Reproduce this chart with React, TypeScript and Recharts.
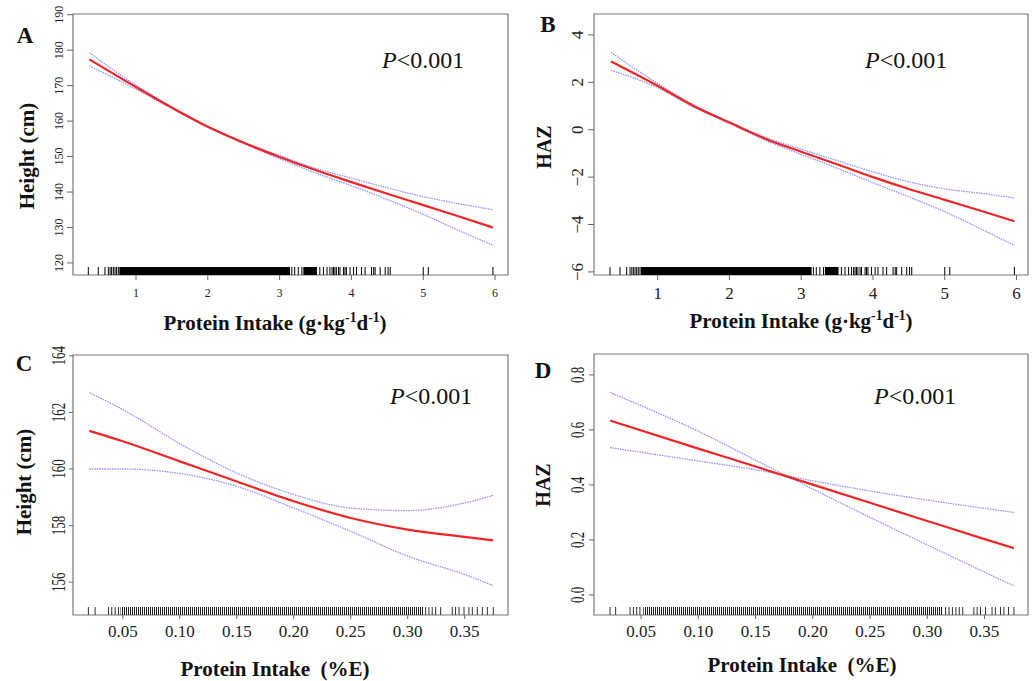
import React from "react";
import { ComposedChart, Line, Scatter, XAxis, YAxis, ReferenceArea } from "recharts";

const SERIF = "'Liberation Serif', 'Times New Roman', serif";

// A & B: protein intake in g/kg/d
const intakeKg = [0.35, 1, 1.5, 2, 2.5, 3, 3.5, 4, 4.5, 5, 5.5, 5.97];
const heightFitA = [177.4, 169.6, 163.8, 158.4, 153.9, 149.9, 146.2, 142.8, 139.5, 136.3, 133.1, 130.0];
const heightUpA = [179.3, 170.1, 164.0, 158.5, 154.05, 150.3, 146.7, 143.9, 141.2, 138.7, 136.7, 135.0];
const heightLoA = [175.6, 169.0, 163.5, 158.25, 153.65, 149.4, 145.4, 141.8, 137.9, 133.7, 129.1, 125.0];

const hazFitB = [2.88, 1.85, 1.0, 0.3, -0.38, -0.93, -1.46, -2.0, -2.5, -2.96, -3.42, -3.86];
const hazUpB = [3.26, 1.95, 1.05, 0.33, -0.32, -0.82, -1.3, -1.78, -2.2, -2.5, -2.68, -2.88];
const hazLoB = [2.5, 1.77, 0.95, 0.26, -0.45, -1.04, -1.62, -2.24, -2.83, -3.46, -4.18, -4.88];

// sparse rug ticks + solid (overplotted) stretches
const rugKg = [0.336, 0.475, 0.568, 0.615, 0.64, 0.661, 0.685, 0.708, 0.73, 0.754, 3.17, 3.21, 3.26, 3.31,
  3.56, 3.61, 3.66, 3.7, 3.73, 3.75, 3.77, 3.79, 3.82, 3.84, 3.89, 3.91, 3.93, 3.98, 4.03, 4.07, 4.14,
  4.19, 4.28, 4.31, 4.33, 4.4, 4.47, 4.51, 4.54, 5.0, 5.07, 5.97];
const rugBandsKg = [[0.768, 3.145], [3.33, 3.52]];

// C & D: protein intake as %E
const intakeE = [0.0207, 0.05, 0.1, 0.15, 0.2, 0.25, 0.3, 0.35, 0.375];
const heightFitC = [161.35, 160.98, 160.27, 159.56, 158.86, 158.27, 157.86, 157.6, 157.48];
const heightUpC = [162.7, 162.1, 160.9, 159.86, 159.1, 158.62, 158.53, 158.8, 159.07];
const heightLoC = [160.0, 160.0, 159.84, 159.39, 158.62, 157.8, 156.92, 156.27, 155.88];
const rugC = [0.0198, 0.0257, 0.0374, 0.0403, 0.0433, 0.0462, 0.3157, 0.3186, 0.3215, 0.3245, 0.3289,
  0.3391, 0.342, 0.345, 0.3494, 0.3537, 0.3567, 0.3611, 0.3655, 0.3699, 0.3751];
const rugBandsC = [[0.048, 0.314]];

const intakeD = [0.0229, 0.1, 0.15, 0.2, 0.25, 0.3, 0.35, 0.3757];
const hazFitD = [0.634, 0.532, 0.467, 0.401, 0.335, 0.269, 0.203, 0.17];
const hazCiSteepD = [0.736, 0.595, 0.49, 0.385, 0.282, 0.182, 0.083, 0.033];
const hazCiFlatD = [0.536, 0.487, 0.455, 0.415, 0.378, 0.345, 0.315, 0.3];
const rugD = [0.0229, 0.0278, 0.0404, 0.0433, 0.0462, 0.049, 0.316, 0.319, 0.322, 0.325, 0.328, 0.331,
  0.3407, 0.3436, 0.3465, 0.3509, 0.3566, 0.3595, 0.364, 0.367, 0.371, 0.3757];
const rugBandsD = [[0.052, 0.313]];

const ticksKg = [1, 2, 3, 4, 5, 6];
const ticksE = [0.05, 0.1, 0.15, 0.2, 0.25, 0.3, 0.35];
const yTicksA = [120, 130, 140, 150, 160, 170, 180, 190];
const yTicksB = [-6, -4, -2, 0, 2, 4];
const yTicksC = [156, 158, 160, 162, 164];
const yTicksD = [0, 0.2, 0.4, 0.6, 0.8];

const pts = (xs: number[], ys: number[]) => xs.map((x, i) => ({ x, y: ys[i] }));
const minus = (v: number) => (v < 0 ? "\u2212" + Math.abs(v) : String(v));

const RED = "#f02424";
const CI = "#8f8fff";

function RotTick(props: any) {
  const { x, y, payload, fs, sx, fmt } = props;
  return (
    <text
      transform={`translate(${x},${y}) scale(${sx},1) rotate(-90)`}
      textAnchor="middle"
      fontSize={fs}
      fontFamily={SERIF}
      fill="#222"
    >
      {fmt(payload.value)}
    </text>
  );
}

function RugBand(props: any) {
  const { x, y, width, height, hatch, id } = props;
  const bottom = y + height;
  if (!hatch) return <rect x={x} y={bottom - 8} width={width} height={8} fill="#000" />;
  return (
    <g>
      <defs>
        <pattern id={id} width={2} height={8} patternUnits="userSpaceOnUse">
          <rect x={0} y={0} width={1} height={8} fill="#1e1e1e" />
        </pattern>
      </defs>
      <rect x={x} y={bottom - 8} width={width} height={8} fill={`url(#${id})`} />
    </g>
  );
}

function Panel(p: any) {
  const yMin = p.yDomain[0];
  const rugData = p.rug.map((x: number) => ({ x, y: yMin }));
  return (
    <div style={{ position: "absolute", left: p.left, top: p.top }}>
      <ComposedChart width={p.width} height={p.height} margin={p.margin}>
        <XAxis
          type="number"
          dataKey="x"
          domain={p.xDomain}
          ticks={p.xTicks}
          allowDataOverflow
          height={p.xHeight}
          axisLine={false}
          tickSize={p.xTickSize}
          tickMargin={p.xTickMargin}
          tickLine={{ stroke: "#666" }}
          tick={{ fontSize: p.xFs, fontFamily: SERIF, fill: "#222" }}
          tickFormatter={p.xFmt}
          interval={0}
        />
        <YAxis
          type="number"
          dataKey="y"
          domain={p.yDomain}
          ticks={p.yTicks}
          allowDataOverflow
          width={p.yWidth}
          axisLine={false}
          tickSize={p.yTickSize}
          tickMargin={p.yTickMargin}
          tickLine={{ stroke: "#666" }}
          tick={(t: any) => <RotTick {...t} fs={p.yFs} sx={p.ySx} fmt={p.yFmt} />}
          interval={0}
        />
        <ReferenceArea
          x1={p.xDomain[0]}
          x2={p.xDomain[1]}
          y1={p.yDomain[0]}
          y2={p.yDomain[1]}
          fill="none"
          stroke="#7a7a7a"
          strokeWidth={1.2}
        />
        {p.bands.map((b: number[], i: number) => (
          <ReferenceArea
            key={i}
            x1={b[0]}
            x2={b[1]}
            shape={(s: any) => <RugBand {...s} hatch={p.hatch} id={`${p.id}-h${i}`} />}
          />
        ))}
        <Scatter
          data={rugData}
          dataKey="y"
          isAnimationActive={false}
          shape={(s: any) => (
            <line x1={s.cx} x2={s.cx} y1={s.cy} y2={s.cy - 8} stroke={p.hatch ? "#333" : "#000"} strokeWidth={1} />
          )}
        />
        <Line data={p.ci1} dataKey="y" type="monotone" stroke={CI} strokeWidth={1.3} strokeDasharray="1.5 1" dot={false} isAnimationActive={false} />
        <Line data={p.ci2} dataKey="y" type="monotone" stroke={CI} strokeWidth={1.3} strokeDasharray="1.5 1" dot={false} isAnimationActive={false} />
        <Line data={p.fit} dataKey="y" type="monotone" stroke={RED} strokeWidth={2.2} dot={false} isAnimationActive={false} />
      </ComposedChart>
    </div>
  );
}

const Txt = ({ x, y, size, bold, rotate, left, children }: any) => (
  <div
    style={{
      position: "absolute",
      left: x,
      top: y,
      transform: left
        ? "translateY(-50%)"
        : `translate(-50%,-50%)${rotate ? " rotate(-90deg)" : ""}`,
      fontFamily: SERIF,
      fontSize: size,
      fontWeight: bold ? 700 : 400,
      lineHeight: 1,
      whiteSpace: "pre",
      color: "#111",
    }}
  >
    {children}
  </div>
);

const KgTitle = () => (
  <>
    Protein Intake (g·kg<sup style={{ fontSize: "0.65em" }}>-1</sup>d<sup style={{ fontSize: "0.65em" }}>-1</sup>)
  </>
);

const PVal = () => (
  <>
    <i>P</i>&lt;0.001
  </>
);

export default function App() {
  return (
    <div style={{ position: "absolute", left: 0, top: 0, width: 1035, height: 681, background: "#fff", overflow: "hidden" }}>
      <Panel
        id="A" left={0} top={0} width={517} height={330}
        margin={{ top: 14, right: 9, bottom: 0, left: 0 }}
        yWidth={73} xHeight={55}
        xDomain={[0.123, 6.18]} yDomain={[116.6, 190.2]}
        xTicks={ticksKg} yTicks={yTicksA}
        xFs={12} xTickSize={5} xTickMargin={8} xFmt={(v: number) => String(v)}
        yFs={12} ySx={1} yTickSize={6} yTickMargin={4} yFmt={(v: number) => String(v)}
        fit={pts(intakeKg, heightFitA)} ci1={pts(intakeKg, heightUpA)} ci2={pts(intakeKg, heightLoA)}
        rug={rugKg} bands={rugBandsKg} hatch={false}
      />
      <Panel
        id="B" left={517} top={0} width={518} height={330}
        margin={{ top: 14, right: 7, bottom: 0, left: 0 }}
        yWidth={77} xHeight={55}
        xDomain={[0.113, 6.16]} yDomain={[-6.13, 4.88]}
        xTicks={ticksKg} yTicks={yTicksB}
        xFs={17} xTickSize={5} xTickMargin={7} xFmt={(v: number) => String(v)}
        yFs={17} ySx={1} yTickSize={6} yTickMargin={5} yFmt={minus}
        fit={pts(intakeKg, hazFitB)} ci1={pts(intakeKg, hazUpB)} ci2={pts(intakeKg, hazLoB)}
        rug={rugKg} bands={rugBandsKg} hatch={false}
      />
      <Panel
        id="C" left={0} top={330} width={517} height={351}
        margin={{ top: 25, right: 9, bottom: 0, left: 0 }}
        yWidth={73} xHeight={66}
        xDomain={[0.0063, 0.388]} yDomain={[154.84, 164.03]}
        xTicks={ticksE} yTicks={yTicksC}
        xFs={17} xTickSize={4} xTickMargin={6} xFmt={(v: number) => v.toFixed(2)}
        yFs={13} ySx={1.4} yTickSize={4} yTickMargin={4} yFmt={(v: number) => String(v)}
        fit={pts(intakeE, heightFitC)} ci1={pts(intakeE, heightUpC)} ci2={pts(intakeE, heightLoC)}
        rug={rugC} bands={rugBandsC} hatch={true}
      />
      <Panel
        id="D" left={517} top={330} width={518} height={351}
        margin={{ top: 24, right: 7, bottom: 0, left: 0 }}
        yWidth={77} xHeight={66}
        xDomain={[0.0089, 0.388]} yDomain={[-0.073, 0.876]}
        xTicks={ticksE} yTicks={yTicksD}
        xFs={17} xTickSize={4} xTickMargin={6} xFmt={(v: number) => v.toFixed(2)}
        yFs={13} ySx={1.4} yTickSize={5} yTickMargin={5} yFmt={(v: number) => v.toFixed(1)}
        fit={pts(intakeD, hazFitD)} ci1={pts(intakeD, hazCiSteepD)} ci2={pts(intakeD, hazCiFlatD)}
        rug={rugD} bands={rugBandsD} hatch={true}
      />

      {/* panel letters */}
      <Txt x={25} y={35} size={23} bold>A</Txt>
      <Txt x={548} y={24} size={23} bold>B</Txt>
      <Txt x={24} y={363} size={23} bold>C</Txt>
      <Txt x={543} y={370} size={23} bold>D</Txt>

      {/* P values */}
      <Txt x={382} y={60} size={24} left><PVal /></Txt>
      <Txt x={865} y={60} size={24} left><PVal /></Txt>
      <Txt x={390} y={396} size={24} left><PVal /></Txt>
      <Txt x={874} y={396} size={24} left><PVal /></Txt>

      {/* axis titles */}
      <Txt x={275} y={322} size={21} bold><KgTitle /></Txt>
      <Txt x={801} y={320} size={21} bold><KgTitle /></Txt>
      <Txt x={275} y={669} size={21} bold>{"Protein Intake  (%E)"}</Txt>
      <Txt x={802} y={665} size={21} bold>{"Protein Intake  (%E)"}</Txt>

      <Txt x={27} y={156} size={21} bold rotate>Height (cm)</Txt>
      <Txt x={544} y={147} size={20} bold rotate>HAZ</Txt>
      <Txt x={24} y={482} size={21} bold rotate>Height (cm)</Txt>
      <Txt x={543} y={485} size={20} bold rotate>HAZ</Txt>
    </div>
  );
}
